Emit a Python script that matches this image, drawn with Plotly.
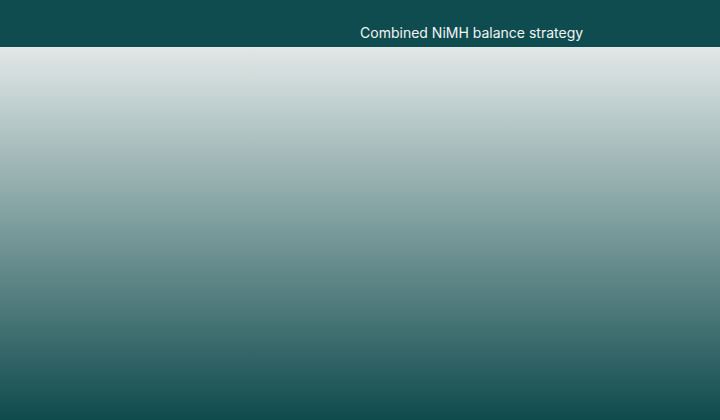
import plotly.graph_objects as go

# the chart carries no marks, only a titled banner over a shaded panel
title_text = "Combined NiMH balance strategy"
panel_x = [0, 1, 1, 0, 0]
panel_y = [0, 0, 1, 1, 0]

header_clr = "#0f4c4f"
top_clr = "#e1e8e7"
bottom_clr = "#0f4a4c"

panel = go.Scatter(
    x=panel_x, y=panel_y,
    mode="lines", line=dict(width=0),
    fill="toself",
    fillgradient=dict(type="vertical", colorscale=[[0, bottom_clr], [1, top_clr]]),
    hoverinfo="skip", showlegend=False,
)

fig = go.Figure(data=[panel])
fig.update_layout(
    width=720, height=420,
    margin=dict(l=0, r=0, t=47, b=0),
    paper_bgcolor=header_clr,
    plot_bgcolor=header_clr,
    title=dict(text=title_text, x=0.655, xanchor="center",
               y=1 - 33 / 420, yanchor="middle", yref="container",
               font=dict(family="Inter", size=14, color="#f2f5f5")),
    xaxis=dict(visible=False, range=[0, 1], fixedrange=True),
    yaxis=dict(visible=False, range=[0, 1], fixedrange=True),
)
# drop the page margin so the figure sits flush in the window
fig.write_html("out.html", post_script="document.body.style.margin='0';",
               config=dict(displayModeBar=False))
